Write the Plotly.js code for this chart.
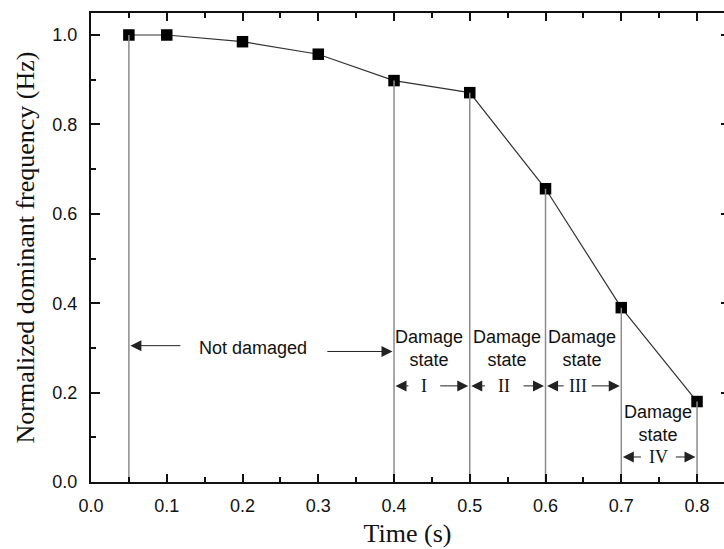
<!DOCTYPE html>
<html>
<head>
<meta charset="utf-8">
<script src="https://cdn.plot.ly/plotly-3.0.1.min.js"></script>
<style>
html,body{margin:0;padding:0;background:#fff;overflow:hidden;}
#chart{width:724px;height:549px;}
</style>
</head>
<body>
<div id="chart"></div>
<script>
// ---- data ----
const time = [0.05, 0.1, 0.2, 0.3, 0.4, 0.5, 0.6, 0.7, 0.8];
const freq = [1.0, 1.0, 0.985, 0.957, 0.898, 0.871, 0.656, 0.390, 0.180];

// times where a vertical boundary line is dropped from the curve
const boundaryTimes = [0.05, 0.4, 0.5, 0.6, 0.7, 0.8];

// stage labels
const stageNames = ['Not damaged', 'Damage<br>state', 'Damage<br>state', 'Damage<br>state', 'Damage<br>state'];
const stageNumerals = ['', 'I', 'II', 'III', 'IV'];
const stageStart = [0.05, 0.4, 0.5, 0.6, 0.7];
const stageEnd = [0.4, 0.5, 0.6, 0.7, 0.8];

const xTitle = 'Time (s)';
const yTitle = 'Normalized dominant frequency (Hz)';

// ---- build traces ----
const dropX = [], dropY = [];
boundaryTimes.forEach(t => {
  const v = freq[time.indexOf(t)];
  dropX.push(t, t, null);
  dropY.push(0, v, null);
});

const dropTrace = {
  x: dropX, y: dropY, type: 'scatter', mode: 'lines',
  line: {color: '#8c8c8c', width: 1.5},
  hoverinfo: 'skip', showlegend: false, yaxis: 'y2'
};

const mainTrace = {
  x: time, y: freq, type: 'scatter', mode: 'lines+markers',
  line: {color: '#333', width: 1.2},
  marker: {symbol: 'square', size: 11.5, color: '#000'},
  showlegend: false
};

// ---- annotation layout (positions only) ----
const sansFont = {family: 'Liberation Sans, Arial, sans-serif', size: 18, color: '#111'};
const serifFont = {family: 'Liberation Serif, Times New Roman, serif', size: 18, color: '#111'};

// per-stage placement: text centre x, text y, arrow row y, tail offsets
const textX = [0.2145, 0.446, 0.549, 0.648, 0.748];
const textY = [0.30, 0.298, 0.298, 0.298, 0.13];
const rowY = [0.30, 0.215, 0.215, 0.215, 0.056];
const tailL = [0.120, 0.421, 0.522, 0.626, 0.728];
const tailR = [0.310, 0.459, 0.569, 0.659, 0.770];

const annotations = [];
const arrowBase = {
  text: '', showarrow: true, axref: 'x', ayref: 'y', xref: 'x', yref: 'y',
  arrowhead: 2, arrowsize: 2.2, arrowwidth: 1, arrowcolor: '#222', standoff: 0, startstandoff: 0
};
for (let i = 0; i < stageNames.length; i++) {
  annotations.push({
    x: textX[i], y: textY[i], xref: 'x', yref: 'y', text: stageNames[i],
    showarrow: false, font: sansFont, align: 'center'
  });
  if (stageNumerals[i]) {
    annotations.push({
      x: (tailL[i] + tailR[i]) / 2, y: rowY[i], xref: 'x', yref: 'y',
      text: stageNumerals[i], showarrow: false, font: serifFont
    });
  }
  const yl = i === 0 ? 0.305 : rowY[i];
  const yr = i === 0 ? 0.292 : rowY[i];
  annotations.push(Object.assign({}, arrowBase, {x: stageStart[i] + 0.002, y: yl, ax: tailL[i], ay: yl}));
  annotations.push(Object.assign({}, arrowBase, {x: stageEnd[i] - 0.002, y: yr, ax: tailR[i], ay: yr}));
}

const tickFont = {family: 'Liberation Sans, Arial, sans-serif', size: 18, color: '#111'};
const titleFont = {family: 'Liberation Serif, Times New Roman, serif', size: 26, color: '#111'};

const layout = {
  width: 724, height: 549,
  margin: {l: 91, r: 0, t: 13, b: 67, pad: 0},
  paper_bgcolor: '#fff', plot_bgcolor: '#fff',
  showlegend: false,
  xaxis: {
    range: [0, 0.8356], dtick: 0.1, tick0: 0, tickformat: '.1f',
    ticks: 'inside', ticklen: 8, tickwidth: 2, tickcolor: '#111',
    minor: {dtick: 0.05, ticks: 'inside', ticklen: 5, tickwidth: 2, tickcolor: '#111'},
    showline: true, linecolor: '#111', linewidth: 2, mirror: 'ticks',
    showgrid: false, zeroline: false,
    tickfont: tickFont, ticklabelstandoff: 6,
    title: {text: xTitle, font: titleFont, standoff: 9}
  },
  yaxis: {
    range: [0, 1.0492], dtick: 0.2, tick0: 0, tickformat: '.1f',
    ticks: 'inside', ticklen: 9, tickwidth: 2, tickcolor: '#111',
    minor: {dtick: 0.1, ticks: 'inside', ticklen: 5, tickwidth: 2, tickcolor: '#111'},
    showline: true, linecolor: '#111', linewidth: 2, mirror: false,
    showgrid: false, zeroline: false,
    tickfont: tickFont, ticklabelstandoff: 8,
    title: {text: yTitle, font: titleFont, standoff: 10}
  },
  yaxis2: {
    overlaying: 'y', side: 'right', matches: 'y',
    range: [0, 1.0492], dtick: 0.2, tick0: 0,
    ticks: 'inside', ticklen: 3, tickwidth: 2, tickcolor: '#111',
    showline: false, showticklabels: false, showgrid: false, zeroline: false
  },
  annotations: annotations
};

Plotly.newPlot('chart', [dropTrace, mainTrace], layout, {displayModeBar: false, staticPlot: true});
</script>
</body>
</html>
